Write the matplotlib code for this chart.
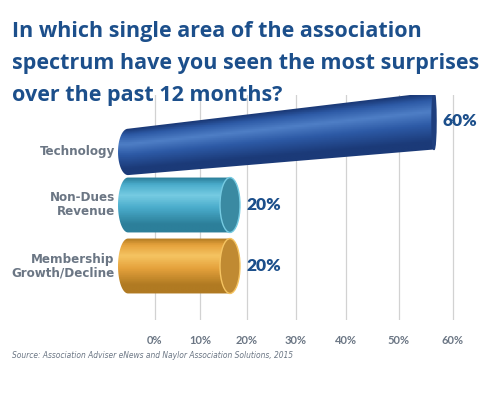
import matplotlib.pyplot as plt
import numpy as np
from matplotlib.colors import LinearSegmentedColormap
from matplotlib.patches import Ellipse, PathPatch
from matplotlib.path import Path

# data, top bar first
categories = ['Technology', 'Non-Dues\nRevenue', 'Membership\nGrowth/Decline']
values = [60, 20, 20]
value_labels = ['60%', '20%', '20%']
tick_values = [0, 10, 20, 30, 40, 50, 60]
tick_labels = ['0%', '10%', '20%', '30%', '40%', '50%', '60%']

title = ('In which single area of the association\n'
         'spectrum have you seen the most surprises\n'
         'over the past 12 months?')
source = 'Source: Association Adviser eNews and Naylor Association Solutions, 2015'

# bar looks: (dark, mid, light) shades and cap colour
bar_colors = [('#1b3a78', '#2d5aa6', '#4f7fc6', '#1f3f7e'),
              ('#2c7f9a', '#4aaccb', '#76cbe2', '#3a8aa2'),
              ('#b07a22', '#e5a23c', '#f5c462', '#c08a32')]

TITLE_C = '#1c4f8b'
GRAY = '#6b7684'

fig = plt.figure(figsize=(5, 3.93), dpi=100)
rect = [0.2, (393 - 320) / 393, 370 / 500, 225 / 393]

# grid axes with a slight "perspective" spacing
def fwd(v):
    v = np.asarray(v, dtype=float)
    return 4.407 * v + 0.0093 * v ** 2

def inv(p):
    p = np.asarray(p, dtype=float)
    return (-4.407 + np.sqrt(np.clip(4.407 ** 2 + 4 * 0.0093 * p, 0, None))) / (2 * 0.0093)

gax = fig.add_axes(rect)
gax.set_xscale('function', functions=(fwd, inv))
gax.set_xlim(inv(-55), inv(315))
gax.set_xticks(tick_values)
gax.set_xticklabels(tick_labels, fontsize=8, fontweight='bold', color=GRAY, family='Lato')
gax.tick_params(axis='x', length=0, pad=11)
gax.set_yticks([])
gax.grid(axis='x', color='#d2d2d2', lw=0.9)
for s in gax.spines.values():
    s.set_visible(False)

# bar axes on top
ax = fig.add_axes(rect)
ax.patch.set_visible(False)
ax.axis('off')
xlim = (-28 / 5.1, 342 / 5.1)
ylim = (-0.885, 2.803)

# per bar: left center, right center, left half height, right half height, cap half width
geom = [(1.87, 2.38, 0.38, 0.47, 0.4),
        (1.0, 1.0, 0.45, 0.45, 1.96),
        (0.0, 0.0, 0.45, 0.45, 1.96)]
left_a = 1.96

t = np.linspace(0, np.pi, 40)
for i, v in enumerate(values):
    yl, yr, hl, hr, ca = geom[i]
    dark, mid, light, cap = bar_colors[i]
    # outline: top edge -> right half ellipse -> bottom edge -> left half ellipse
    rx = v + ca * np.sin(t)
    ry = yr + hr * np.cos(t)
    lx = 0 - left_a * np.sin(t)
    ly = yl - hl * np.cos(t)
    xs = np.concatenate([rx, lx])
    ys = np.concatenate([ry, ly])
    verts = np.column_stack([xs, ys])
    path = Path(np.vstack([verts, verts[:1]]),
                [Path.MOVETO] + [Path.LINETO] * (len(verts) - 1) + [Path.CLOSEPOLY])
    patch = PathPatch(path, facecolor='none', edgecolor='none')
    ax.add_patch(patch)

    cmap = LinearSegmentedColormap.from_list(
        'c%d' % i, [(0, dark), (0.12, mid), (0.32, light), (0.55, mid), (0.85, dark), (1, dark)])
    # gradient follows the (possibly tilted) bar
    nx, ny = 200, 120
    gx = np.linspace(xlim[0], v + ca, nx)
    gy = np.linspace(ylim[1], ylim[0], ny)
    GX, GY = np.meshgrid(gx, gy)
    frac = np.clip(GX / max(v, 1e-9), 0, 1)
    cy = yl + (yr - yl) * frac
    hh = hl + (hr - hl) * frac
    local = np.clip((cy + hh - GY) / (2 * hh), 0, 1)
    im = ax.imshow(local, cmap=cmap, extent=(gx[0], gx[-1], ylim[0], ylim[1]),
                   aspect='auto', origin='upper', vmin=0, vmax=1, zorder=2)
    im.set_clip_path(patch)

    # end cap
    capc = Ellipse((v, yr), 2 * ca, 2 * hr, facecolor=cap,
                   edgecolor=light if i else cap, lw=1.0, zorder=3)
    ax.add_patch(capc)

    # value label
    ax.text(v + ca + 1.3, yr, value_labels[i], ha='left', va='center',
            fontsize=12.5, fontweight='heavy', color=TITLE_C, family='Lato')

    # category label
    ax.text(-2.6, yl, categories[i], ha='right', va='center', multialignment='right',
            fontsize=9.5, fontweight='bold', color=GRAY, family='DejaVu Sans',
            fontstretch='condensed', linespacing=1.1)

ax.set_xlim(*xlim)
ax.set_ylim(*ylim)

# title, fitted to the reference width
ttl = fig.text(12 / 500, 1 - 21 / 393, title, ha='left', va='top', fontsize=15,
               fontweight='bold', color=TITLE_C, family='Open Sans', linespacing=1.7)
fig.canvas.draw()
w = ttl.get_window_extent().width
ttl.set_fontsize(15 * 468 / w)

fig.text(12 / 500, 1 - 355 / 393, source, ha='left', va='center', fontsize=6,
         style='italic', color=GRAY, family='DejaVu Sans', fontstretch='condensed')

fig.savefig('out.png', dpi=100, facecolor='white')
